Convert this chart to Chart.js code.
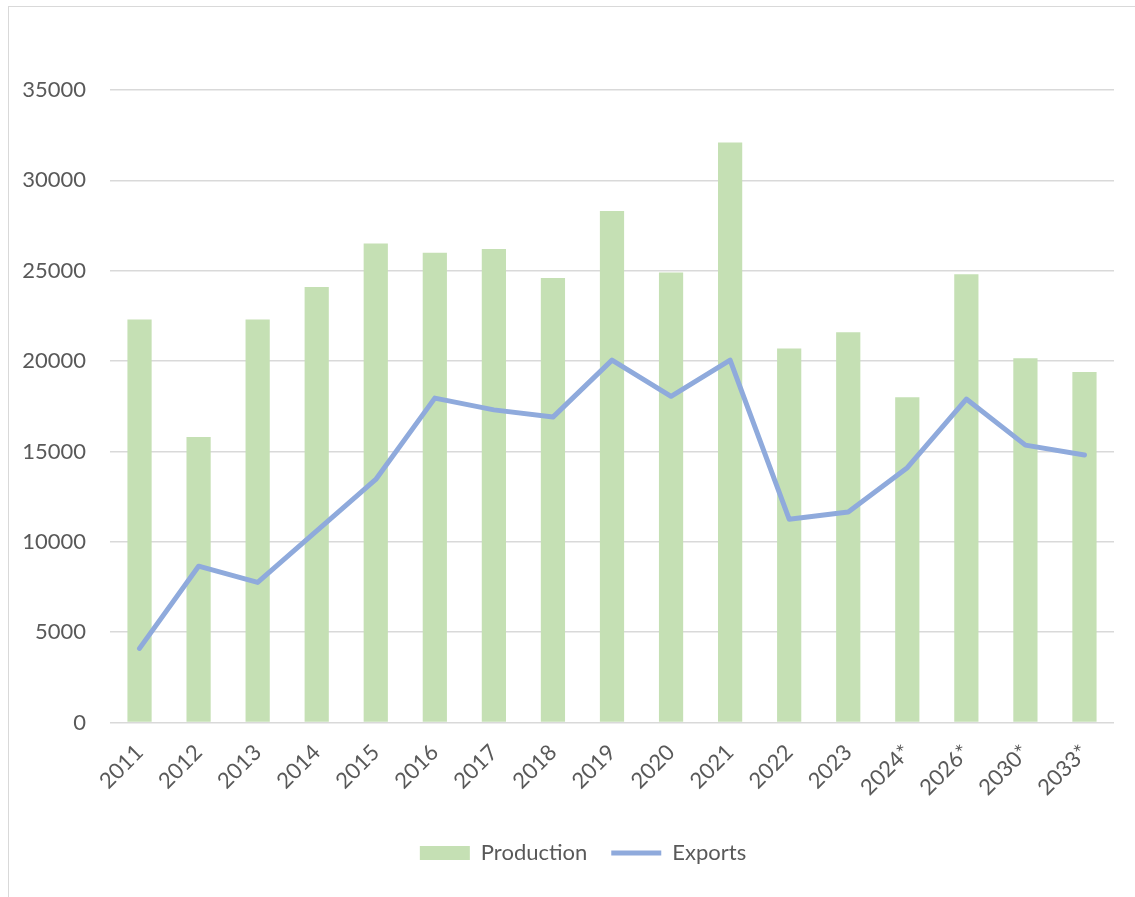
<!DOCTYPE html>
<html>
<head>
<meta charset="utf-8">
<script src="https://cdn.jsdelivr.net/npm/chart.js@4.4.1/dist/chart.umd.min.js"></script>
<style>
  html, body { margin: 0; padding: 0; background: #fff; overflow: hidden; }
  #frame {
    position: absolute; left: 8px; top: 6px;
    width: 1140px; height: 900px;
    border: 1.5px solid #d9d9d9;
  }
  #chart { position: absolute; left: 0; top: 0; }
</style>
</head>
<body>
<div id="frame"></div>
<canvas id="chart" width="1135" height="897"></canvas>
<script>
// categories and values
const years = ['2011', '2012', '2013', '2014', '2015', '2016', '2017', '2018', '2019',
               '2020', '2021', '2022', '2023', '2024*', '2026*', '2030*', '2033*'];
const production = [22300, 15800, 22300, 24100, 26500, 26000, 26200, 24600, 28300,
                    24900, 32100, 20700, 21600, 18000, 24800, 20150, 19400];
const exports_ = [4100, 8650, 7750, 10600, 13450, 17950, 17300, 16900, 20050,
                  18050, 20050, 11250, 11650, 14100, 17900, 15350, 14800];
const yTicks = [0, 5000, 10000, 15000, 20000, 25000, 30000, 35000];

const textColor = '#595959';
const fontFamily = 'Lato, "Open Sans", sans-serif';

// excel puts the legend a bit right of the plot centre
const legendShift = {
    id: 'legendShift',
    afterLayout(chart) {
        chart.legend.left += 26;
        chart.legend.right += 26;
    }
};

const ctx = document.getElementById('chart');
new Chart(ctx, {
    data: {
        labels: years,
        datasets: [
            {
                type: 'line',
                label: 'Exports',
                data: exports_,
                borderColor: '#8FAADC',
                backgroundColor: '#8FAADC',
                borderWidth: 5,
                borderCapStyle: 'round',
                borderJoinStyle: 'round',
                pointRadius: 0,
                pointHoverRadius: 0,
                pointStyle: 'line',
                tension: 0,
                order: 0
            },
            {
                type: 'bar',
                label: 'Production',
                data: production,
                backgroundColor: '#C5E0B4',
                borderWidth: 0,
                categoryPercentage: 1,
                barPercentage: 0.41,
                pointStyle: 'rect',
                order: 1
            }
        ]
    },
    options: {
        responsive: false,
        animation: false,
        layout: {
            padding: { left: 0, right: 21, top: 90, bottom: 23 }
        },
        plugins: {
            tooltip: { enabled: false },
            legend: {
                position: 'bottom',
                reverse: true,
                labels: {
                    usePointStyle: true,
                    pointStyleWidth: 50,
                    boxHeight: 14,
                    padding: 24,
                    color: textColor,
                    font: { family: fontFamily, size: 22 }
                }
            }
        },
        scales: {
            x: {
                grid: { display: false, drawTicks: false },
                border: { display: false },
                ticks: {
                    color: textColor,
                    font: { family: fontFamily, size: 22 },
                    minRotation: 45,
                    maxRotation: 45,
                    padding: 17,
                    autoSkip: false
                },
                afterFit: function(scale) { scale.height = 95.5; }
            },
            y: {
                min: 0,
                max: 35000,
                afterBuildTicks: function(scale) {
                    scale.ticks = yTicks.map(v => ({ value: v }));
                },
                grid: { color: '#D9D9D9', lineWidth: 1.4, drawTicks: false },
                border: { display: false },
                ticks: {
                    color: textColor,
                    font: { family: fontFamily, size: 22 },
                    padding: 24,
                    callback: function(value) { return String(value); }
                },
                afterFit: function(scale) { scale.width = 110; }
            }
        }
    },
    plugins: [legendShift]
});
</script>
</body>
</html>
